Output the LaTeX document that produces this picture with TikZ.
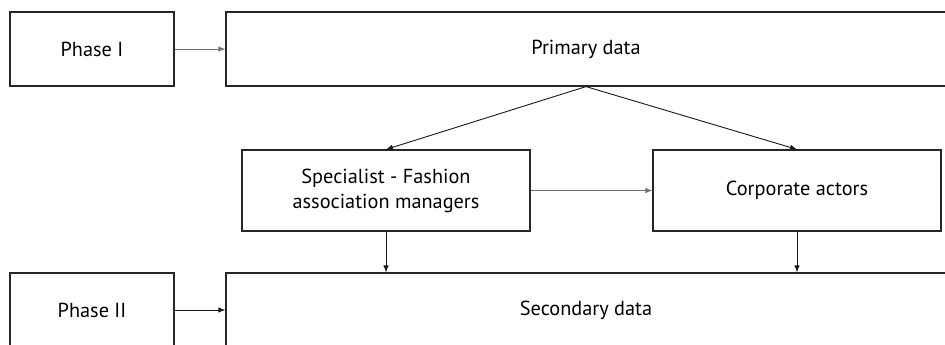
\documentclass[tikz,border=0pt]{standalone}
\usepackage{fontspec}
\setmainfont{PT Sans}
\usetikzlibrary{arrows.meta}
\begin{document}
\begin{tikzpicture}[x=1pt,y=-1pt,
  box/.style={draw=black!85,line width=1.2pt,fill=white,inner sep=0pt,
    font=\fontsize{20.3}{25}\selectfont,align=center},
  link/.style={draw=black!90,line width=0.9pt,-{Latex[length=7pt,width=5.5pt]}},
  softlink/.style={link,draw=black!55}]
\useasboundingbox[fill=white] (0,0) rectangle (945,345);
% phase labels
\node[box,minimum width=164pt,minimum height=74pt] (ph1) at (92,49) {Phase I};
\node[box,minimum width=164pt,minimum height=74pt] (ph2) at (92,310) {Phase II};
% data sources
\node[box,minimum width=720pt,minimum height=74pt] (prim) at (586,49) {Primary data};
\node[box,minimum width=720pt,minimum height=74pt] (sec) at (586,310) {Secondary data};
% interviewees
\node[box,minimum width=288pt,minimum height=81pt] (spec) at (386,190.5) {Specialist - Fashion\\association managers};
\node[box,minimum width=288pt,minimum height=81pt] (corp) at (797,190.5) {Corporate actors};
% connectors
\draw[softlink] (ph1.east) -- (prim.west);
\draw[link] (ph2.east) -- (sec.west);
\draw[link] (prim.south) -- (spec.north);
\draw[link] (prim.south) -- (corp.north);
\draw[softlink] (spec.east) -- (corp.west);
\draw[link] (spec.south) -- (spec.south |- sec.north);
\draw[link] (corp.south) -- (corp.south |- sec.north);
\end{tikzpicture}
\end{document}
